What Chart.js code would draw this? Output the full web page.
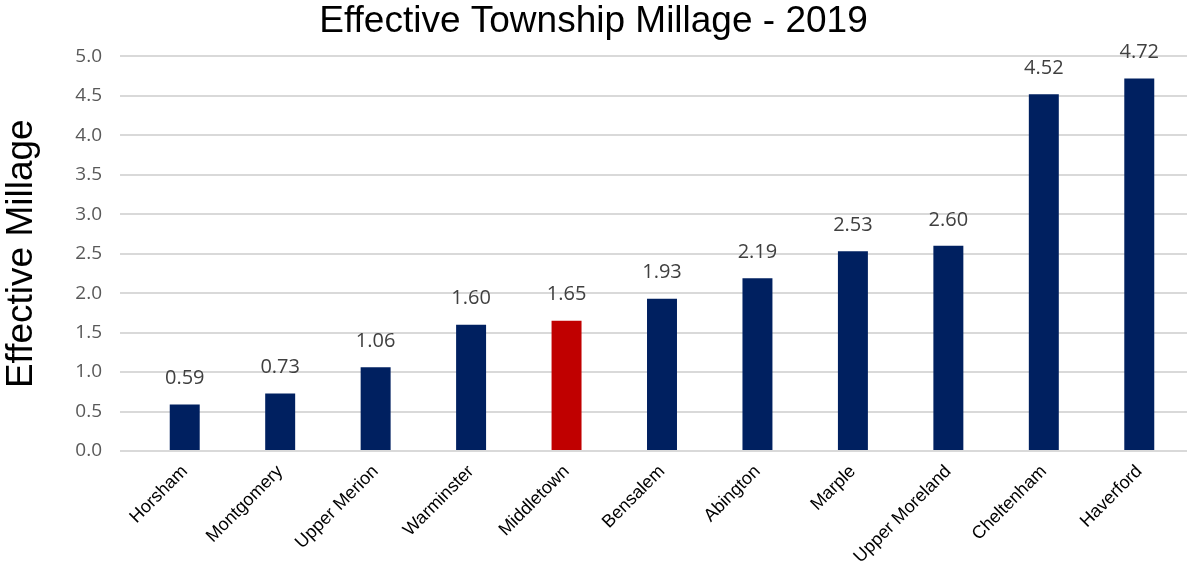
<!DOCTYPE html>
<html>
<head>
<meta charset="utf-8">
<script src="https://cdn.jsdelivr.net/npm/chart.js@4"></script>
<style>
  html, body { margin: 0; padding: 0; background: #fff; }
  #wrap { width: 1187px; height: 567px; }
</style>
</head>
<body>
<div id="wrap"><canvas id="chart"></canvas></div>
<script>
// data
const townships = ["Horsham", "Montgomery", "Upper Merion", "Warminster", "Middletown", "Bensalem",
  "Abington", "Marple", "Upper Moreland", "Cheltenham", "Haverford"];
const millage = [0.59, 0.73, 1.06, 1.60, 1.65, 1.93, 2.19, 2.53, 2.60, 4.52, 4.72];
const highlight = "Middletown";

const navy = "#002060";
const red = "#C00000";

// value labels above each bar
const valueLabels = {
  id: "valueLabels",
  afterDatasetsDraw(chart) {
    const ctx = chart.ctx;
    const meta = chart.getDatasetMeta(0);
    ctx.save();
    ctx.font = "20px 'Open Sans'";
    ctx.fillStyle = "#404040";
    ctx.textAlign = "center";
    ctx.textBaseline = "middle";
    meta.data.forEach((bar, i) => {
      ctx.fillText(millage[i].toFixed(2), bar.x, bar.y - 26);
    });
    ctx.restore();
  }
};

new Chart(document.getElementById("chart"), {
  type: "bar",
  data: {
    labels: townships,
    datasets: [{
      data: millage,
      backgroundColor: townships.map(t => t === highlight ? red : navy),
      borderWidth: 0,
      categoryPercentage: 1,
      barPercentage: 0.314
    }]
  },
  options: {
    responsive: true,
    maintainAspectRatio: false,
    animation: false,
    layout: { padding: 0 },
    plugins: {
      legend: { display: false },
      tooltip: { enabled: false },
      title: {
        display: true,
        text: "Effective Township Millage - 2019",
        color: "#000",
        font: { family: "'Liberation Sans', Arial", size: 37, weight: "normal" },
        padding: { top: 0, bottom: 12 }
      }
    },
    scales: {
      x: {
        grid: { display: false },
        border: { display: false },
        ticks: {
          color: "#000",
          font: { family: "'Liberation Sans', Arial", size: 18 },
          maxRotation: 45,
          minRotation: 45,
          padding: 2
        },
        afterFit(scale) { scale.height = 116; }
      },
      y: {
        min: 0,
        max: 5,
        grid: { color: "#d9d9d9", lineWidth: 2, drawTicks: true, tickLength: 17 },
        border: { display: false },
        ticks: {
          stepSize: 0.5,
          color: "#595959",
          padding: 18,
          font: { family: "'Open Sans'", size: 19 },
          callback: v => Number(v).toFixed(1)
        },
        title: {
          display: true,
          text: "Effective Millage",
          color: "#000",
          font: { family: "'Liberation Sans', Arial", size: 37 },
          padding: { top: 0, bottom: 0 }
        },
        afterFit(scale) { scale.width = 137; }
      }
    }
  },
  plugins: [valueLabels]
});
</script>
</body>
</html>
